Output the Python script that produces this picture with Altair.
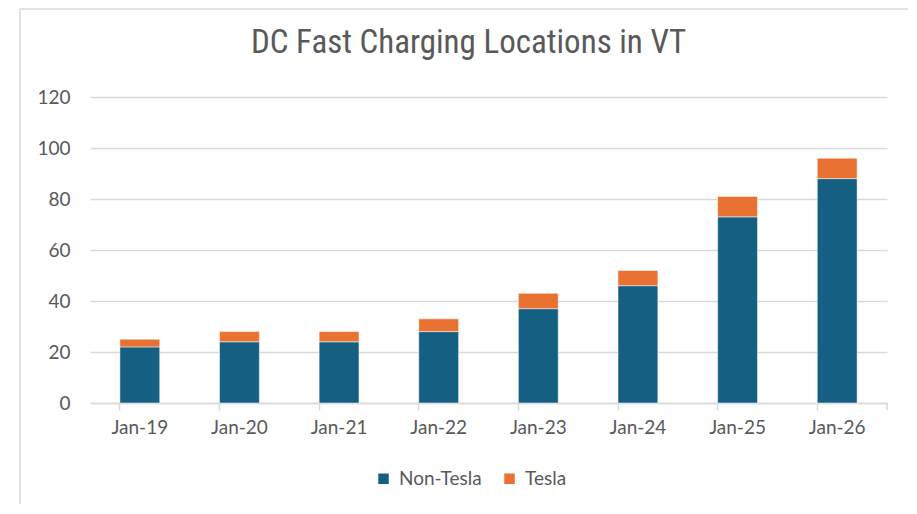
import altair as alt
import pandas as pd

months = ["Jan-19", "Jan-20", "Jan-21", "Jan-22", "Jan-23", "Jan-24", "Jan-25", "Jan-26"]
non_tesla = [22, 24, 24, 28, 37, 46, 73, 88]
tesla = [3, 4, 4, 5, 6, 6, 8, 8]
series = ["Non-Tesla", "Tesla"]
colors = ["#156082", "#E97132"]

rows = []
for m, a, b in zip(months, non_tesla, tesla):
    rows.append({"month": m, "series": "Non-Tesla", "value": a, "ord": 0})
    rows.append({"month": m, "series": "Tesla", "value": b, "ord": 1})
df = pd.DataFrame(rows)

FONT = "Lato"
TFONT = "Liberation Sans Narrow, Roboto Condensed, Lato"
GREY = "#595959"
LINE = "#D9D9D9"

bars = alt.Chart(df).mark_bar(stroke="white", strokeWidth=0.5).encode(
    x=alt.X("month:N", sort=months, title=None,
            scale=alt.Scale(paddingInner=0.6, paddingOuter=0.3),
            axis=alt.Axis(labelAngle=0, labelFontSize=19, labelColor=GREY, labelFont=FONT,
                          domainColor=LINE, domainWidth=1.5, tickColor=LINE, tickWidth=1.5,
                          tickSize=7, bandPosition=0, labelPadding=8, grid=False)),
    y=alt.Y("value:Q", stack="zero", title=None,
            scale=alt.Scale(domain=[0, 120]),
            axis=alt.Axis(values=[0, 20, 40, 60, 80, 100, 120], labelFontSize=19, labelColor=GREY,
                          labelFont=FONT, domain=False, ticks=False, labelPadding=20,
                          gridColor=LINE, gridWidth=1.5)),
    color=alt.Color("series:N", sort=series,
                    scale=alt.Scale(domain=series, range=colors),
                    legend=alt.Legend(title=None, orient="none", direction="horizontal",
                                      legendX=284, legendY=372,
                                      symbolType="square", symbolSize=110, symbolStrokeWidth=0,
                                      labelFontSize=19, labelColor=GREY, labelFont=FONT,
                                      labelOffset=6, columnPadding=18)),
    order=alt.Order("ord:Q"),
)

one = alt.Data(values=[{"a": 1}])

frame = alt.Chart(one).mark_rect(
    fill=None, stroke=LINE, strokeWidth=1.5
).encode(x=alt.value(-70), x2=alt.value(819), y=alt.value(-88), y2=alt.value(408))

end_tick = alt.Chart(one).mark_rule(color=LINE, strokeWidth=1.5).encode(
    x=alt.value(797), y=alt.value(306), y2=alt.value(313))

chart = alt.layer(frame, end_tick, bars).properties(
    width=797, height=306,
    autosize=alt.AutoSizeParams(type="none"),
    padding={"left": 82, "top": 89, "right": 21, "bottom": 101},
    title=alt.TitleParams("DC Fast Charging Locations in VT", fontSize=33, font=TFONT,
                          fontWeight="normal", color=GREY, anchor="middle", offset=42,
                          dy=94, dx=-20, frame="group"),
).configure_view(stroke=None)

chart.save("out.html", embed_options={"renderer": "svg", "actions": False})
